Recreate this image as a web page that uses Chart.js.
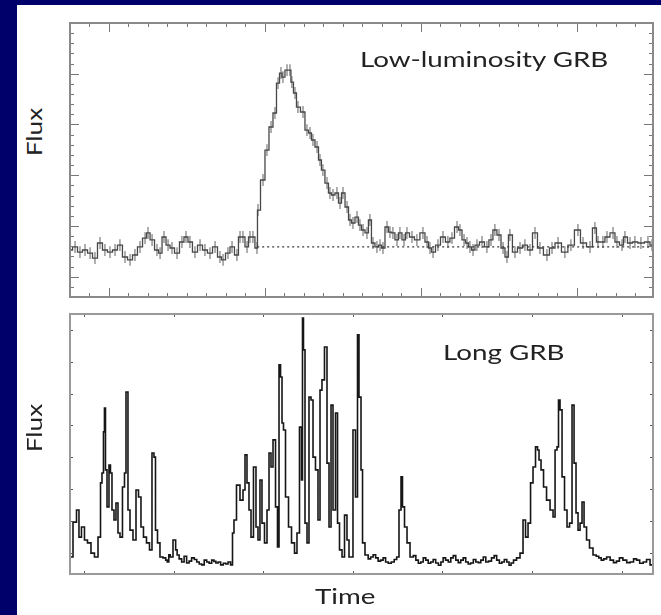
<!DOCTYPE html>
<html>
<head>
<meta charset="utf-8">
<script src="https://cdn.jsdelivr.net/npm/chart.js@4.4.1/dist/chart.umd.min.js"></script>
<style>
  body { margin: 0; background: #00006a; width: 661px; height: 615px; overflow: hidden; position: relative; font-family: Lato, "Open Sans", sans-serif; }
  #panel { position: absolute; left: 17px; top: 5px; width: 644px; height: 610px; background: #fff; }
  canvas { position: absolute; }
  .lbl { position: absolute; color: #222; font-size: 21px; line-height: 1; white-space: nowrap; transform-origin: 0 0; transform: scaleX(1.32); }
  .rot { transform-origin: 50% 50%; transform: translate(-50%, -50%) rotate(-90deg) scaleX(1.25); }
</style>
</head>
<body>
<div id="panel"></div>
<canvas id="lowChart" width="603" height="294" style="left:60px;top:13px"></canvas>
<canvas id="longChart" width="603" height="280" style="left:60px;top:304px"></canvas>
<div class="lbl" style="left:360px;top:48px">Low-luminosity GRB</div>
<div class="lbl" style="left:443px;top:341px">Long GRB</div>
<div class="lbl rot" style="left:33px;top:132px">Flux</div>
<div class="lbl rot" style="left:33px;top:428px">Flux</div>
<div class="lbl" style="left:315px;top:585px">Time</div>
<script>
// low-luminosity burst: time bins and flux (arbitrary units)
const lowTime = [0.00, 0.26, 0.51, 0.77, 1.03, 1.28, 1.54, 1.79, 2.05, 2.31, 2.56, 2.82, 3.08, 3.33, 3.59, 3.85,
  4.00, 4.21, 4.46, 4.62, 4.82, 5.03, 5.23, 5.49, 5.74, 5.95, 6.15, 6.41, 6.67, 6.92, 7.18, 7.44, 7.69, 7.85,
  8.10, 8.31, 8.56, 8.72, 8.87, 9.08, 9.23, 9.38, 9.59, 9.64, 9.90, 10.10, 10.31, 10.51, 10.67, 10.82, 10.92,
  11.13, 11.28, 11.38, 11.54, 11.69, 11.95, 12.15, 12.31, 12.46, 12.67, 12.82, 12.97, 13.18, 13.33, 13.49,
  13.69, 13.85, 14.00, 14.21, 14.36, 14.51, 14.72, 14.87, 15.03, 15.23, 15.38, 15.54, 15.74, 15.90, 16.05,
  16.26, 16.41, 16.56, 16.77, 16.92, 17.13, 17.28, 17.54, 17.79, 18.10, 18.31, 18.46, 18.62, 18.87, 19.13,
  19.38, 19.59, 19.85, 20.00, 20.21, 20.36, 20.51, 20.67, 20.87, 21.13, 21.38, 21.59, 21.79, 22.00, 22.21,
  22.41, 22.56, 22.82, 23.08, 23.33, 23.59, 23.85, 24.10, 24.46, 24.72, 25.03, 25.38, 25.69, 26.05, 26.31,
  26.67, 26.92, 27.08, 27.33, 27.54, 27.85, 28.05, 28.31, 28.46, 28.72, 28.97, 29.28, 29.64, 29.85];
const lowFlux = [4.63, 4.93, 4.43, 4.63, 4.33, 3.84, 5.32, 4.63, 4.43, 4.63, 5.12, 3.94, 3.65, 4.14, 4.93, 5.81,
  6.31, 5.62, 4.63, 4.33, 5.91, 5.12, 4.83, 4.33, 5.42, 5.91, 5.42, 4.43, 5.12, 4.63, 4.33, 4.93, 3.94, 3.65,
  4.33, 4.93, 4.14, 5.91, 5.91, 4.93, 5.91, 5.91, 4.83, 8.57, 11.53, 14.48, 16.75, 18.13, 21.08, 22.07, 21.67,
  22.36, 22.36, 21.18, 20.10, 18.72, 18.23, 16.45, 16.16, 15.47, 14.78, 13.50, 12.51, 11.23, 10.25, 10.05,
  10.25, 9.26, 10.25, 8.87, 7.59, 7.29, 7.88, 7.09, 6.60, 6.31, 7.59, 5.32, 4.93, 5.12, 4.83,
  6.90, 6.40, 6.31, 5.62, 6.31, 5.62, 6.31, 5.91, 5.62, 6.31, 5.42, 4.83, 4.43, 5.12, 5.91,
  5.42, 5.81, 6.90, 6.60, 5.62, 5.32, 4.93, 4.63, 5.12, 5.42, 4.93, 5.62, 6.60, 6.11, 4.83,
  3.94, 6.11, 4.43, 4.83, 5.12, 4.63, 6.31, 4.83, 4.14, 4.83, 5.32, 4.43, 5.12, 6.60, 5.32,
  4.93, 6.80, 5.42, 5.42, 5.91, 6.31, 5.42, 5.12, 5.91, 5.32, 5.42, 5.32, 5.42, 5.12];
const lowErr = 0.55;
const lowBaseTime = [9.6, 29.9];
const lowBaseFlux = [4.93, 4.93];
const lowXMajor = [2, 10, 18, 26];
const lowYMajor = [2, 7, 12, 17, 22, 27];

// long burst: time and flux (arbitrary units)
const longTime = [-1.45, -1.00, -0.67, -0.45, -0.11, 0.22, 0.56, 1.00, 1.34, 1.79, 1.90, 2.12, 2.23, 2.34, 2.46,
  2.68, 2.90, 3.01, 3.24, 3.46, 3.68, 3.91, 4.13, 4.46, 4.58, 4.80, 5.02, 5.25, 5.69, 5.92, 6.25, 6.47, 6.81,
  7.14, 7.48, 7.70, 7.92, 8.04, 8.37, 8.59, 9.04, 9.20, 9.38, 9.55, 9.71, 10.16, 10.30, 10.49, 10.75, 11.05,
  11.30, 11.61, 11.85, 12.17, 12.45, 12.72, 13.00, 13.28, 13.55, 13.84, 14.10, 14.40, 14.60, 14.84, 15.10,
  15.40, 15.70, 15.96, 16.20, 16.52, 16.63, 16.85, 17.19, 17.63, 17.86, 18.08, 18.30, 18.53, 18.75,
  19.08, 19.31, 19.53, 19.75, 19.98, 20.31, 20.54, 20.76, 20.98, 21.21, 21.54, 21.65, 21.88, 21.99, 22.21,
  22.32, 22.66, 22.99, 23.33, 23.66, 23.88, 24.22, 24.33, 24.44, 24.55, 24.78, 25.00, 25.22, 25.45, 25.67,
  26.00, 26.23, 26.45, 26.67, 27.01, 27.23, 27.46, 27.68, 27.90, 28.24, 28.35, 28.68, 28.91, 29.24, 29.46,
  29.69, 29.91, 30.13, 30.47, 30.58, 30.80, 31.03, 31.14, 31.58, 31.85, 32.14, 32.40, 32.70, 32.95, 33.26,
  33.50, 33.82, 34.10, 34.49, 34.75, 35.04, 35.27, 35.49, 35.60, 35.94, 36.16, 36.61, 36.90, 37.17, 37.45,
  37.72, 38.00, 38.28, 38.55, 38.84, 39.10, 39.40, 39.70, 39.96, 40.20, 40.51, 40.80, 41.07, 41.35, 41.63,
  41.90, 42.19, 42.45, 42.75, 43.00, 43.30, 43.60, 43.86, 44.15, 44.42, 44.70, 44.98, 45.30, 45.65, 45.90,
  46.21, 46.50, 46.76, 47.05, 47.32, 47.55, 47.77, 48.10, 48.44, 48.88, 49.11, 49.44,
  49.67, 50.00, 50.22, 50.56, 50.67, 50.89, 51.12, 51.45, 51.79, 52.23, 52.46, 52.68, 52.90, 53.01, 53.24,
  53.46, 53.79, 54.02, 54.35, 54.58, 54.80, 55.02, 55.25, 55.47, 55.69, 55.92, 56.25, 56.58, 57.03, 57.30,
  57.59, 57.85, 58.15, 58.50, 58.93, 59.25, 59.60, 59.90, 60.38, 60.75, 61.16, 61.50, 61.83, 62.20, 62.61,
  62.95, 63.39];
const longFlux = [0.88, 1.97, 2.35, 1.50, 1.82, 1.41, 1.32, 1.00, 0.88, 1.50, 3.20, 3.51, 4.80, 5.55, 3.61,
  2.45, 3.76, 3.51, 2.35, 2.04, 2.57, 1.63, 1.50, 3.07, 3.51, 6.05, 2.35, 1.72, 1.41, 2.98, 2.76, 1.82, 1.50,
  1.32, 1.10, 4.14, 4.01, 1.72, 1.32, 0.88, 0.85, 0.78, 0.72, 0.95, 0.88, 1.41, 1.10, 0.94, 0.82, 0.72,
  0.90, 0.69, 0.75, 0.85, 0.80, 0.72, 0.66, 0.63, 0.78, 0.72, 0.68, 0.78, 0.74, 0.69, 0.72,
  0.63, 0.68, 0.66, 0.72, 0.63, 1.63, 2.04, 3.13, 2.66, 2.98, 4.08, 3.20, 2.35, 1.50,
  3.70, 1.82, 1.41, 3.29, 1.94, 1.32, 2.35, 4.14, 3.70, 4.55, 2.45, 1.19, 6.90, 6.52, 5.08,
  4.86, 2.76, 1.82, 1.32, 1.00, 1.63, 4.95, 3.29, 8.37, 7.37, 1.94, 1.32, 5.89, 5.80, 4.01,
  3.61, 2.04, 6.11, 6.43, 7.46, 3.82, 1.82, 5.64, 2.35, 5.39, 1.94, 1.10, 0.88, 2.19, 1.41,
  0.88, 0.88, 4.86, 2.76, 7.84, 5.89, 3.61, 1.32, 0.94, 0.82, 0.88, 0.95, 0.85, 0.75, 0.78,
  0.85, 0.72, 0.68, 0.72, 0.80, 0.88, 2.35, 3.39, 2.45, 1.82, 1.32, 0.88, 0.92, 0.78, 0.68,
  0.72, 0.85, 0.78, 0.68, 0.72, 0.80, 0.69, 0.62, 0.72, 0.85, 0.78, 0.72, 0.85, 0.92, 0.78,
  0.70, 0.78, 0.85, 0.72, 0.66, 0.69, 0.80, 0.72, 0.70, 0.78, 0.88, 0.72, 0.75, 0.85, 0.92,
  0.78, 0.68, 0.72, 0.80, 0.72, 0.62, 0.69, 0.78, 0.85, 1.00, 2.04, 1.50,
  1.94, 3.20, 3.70, 4.33, 4.23, 3.92, 3.61, 3.07, 2.66, 2.35, 2.13, 4.23, 4.33, 5.80, 5.49,
  3.39, 2.35, 1.82, 1.94, 5.64, 3.82, 2.26, 1.72, 1.94, 2.60, 1.82, 1.41, 1.16, 0.94, 0.90,
  0.85, 0.78, 0.82, 0.88, 0.78, 0.70, 0.75, 0.85, 0.78, 0.70, 0.72, 0.82, 0.78, 0.68, 0.72,
  0.80, 0.63];
const longXTicks = 10;

function pts(xs, ys) {
  return xs.map((t, i) => ({ x: t, y: ys[i] }));
}

// box round the plot area plus inward ticks on all four sides
const frameTicks = {
  id: "frameTicks",
  afterDraw(chart, args, o) {
    const { ctx, chartArea: a } = chart;
    const x = chart.scales.x, y = chart.scales.y;
    ctx.save();
    ctx.strokeStyle = o.tickColor;
    ctx.lineWidth = 1;
    ctx.beginPath();
    for (let v = Math.ceil(x.min / o.xStep) * o.xStep; v <= x.max; v += o.xStep) {
      const px = Math.round(x.getPixelForValue(v)) + 0.5;
      const len = o.xMajor.includes(v) ? o.major : o.minor;
      ctx.moveTo(px, a.bottom); ctx.lineTo(px, a.bottom - len);
      ctx.moveTo(px, a.top); ctx.lineTo(px, a.top + len);
    }
    for (let v = Math.ceil(y.min / o.yStep) * o.yStep; v <= y.max; v += o.yStep) {
      const py = Math.round(y.getPixelForValue(v)) + 0.5;
      const len = o.yMajor.includes(v) ? o.major : o.minor;
      ctx.moveTo(a.left, py); ctx.lineTo(a.left + len, py);
      ctx.moveTo(a.right, py); ctx.lineTo(a.right - len, py);
    }
    ctx.stroke();
    ctx.strokeStyle = o.frameColor;
    ctx.lineWidth = 2;
    ctx.strokeRect(a.left, a.top, a.right - a.left, a.bottom - a.top);
    ctx.restore();
  }
};

new Chart(document.getElementById("lowChart"), {
  type: "line",
  data: {
    datasets: [
      {
        data: pts(lowTime, lowFlux),
        borderColor: "#474747",
        borderWidth: 1.3,
        pointRadius: 0,
        stepped: "middle",
        order: 1
      },
      {
        type: "bar",
        data: lowTime.map((t, i) => ({ x: t, y: [lowFlux[i] - lowErr, lowFlux[i] + lowErr] })),
        backgroundColor: "#a0a0a0",
        barThickness: 1,
        order: 2
      },
      {
        data: pts(lowBaseTime, lowBaseFlux),
        borderColor: "#3a3a3a",
        borderWidth: 1.2,
        borderDash: [2, 3],
        pointRadius: 0,
        order: 0
      }
    ]
  },
  options: {
    responsive: false,
    animation: false,
    layout: { padding: 10 },
    plugins: {
      legend: { display: false },
      tooltip: { enabled: false },
      frameTicks: { xStep: 1, yStep: 1, xMajor: lowXMajor, yMajor: lowYMajor, major: 9, minor: 4, tickColor: "#777", frameColor: "#8a8a8a" }
    },
    scales: {
      x: { type: "linear", min: 0, max: 29.9, offset: false, display: false },
      y: { min: 0, max: 27, display: false }
    }
  },
  plugins: [frameTicks]
});

new Chart(document.getElementById("longChart"), {
  type: "line",
  data: {
    datasets: [
      {
        data: pts(longTime, longFlux),
        borderColor: "#161616",
        borderWidth: 1.6,
        pointRadius: 0,
        stepped: "middle"
      }
    ]
  },
  options: {
    responsive: false,
    animation: false,
    layout: { padding: 10 },
    plugins: {
      legend: { display: false },
      tooltip: { enabled: false },
      frameTicks: { xStep: longXTicks, yStep: 1, xMajor: [], yMajor: [], major: 4, minor: 3, tickColor: "#555", frameColor: "#9a9a9a" }
    },
    scales: {
      x: { type: "linear", min: -1.56, max: 63.5, display: false },
      y: { min: 0.345, max: 8.495, display: false }
    }
  },
  plugins: [frameTicks]
});
</script>
</body>
</html>
